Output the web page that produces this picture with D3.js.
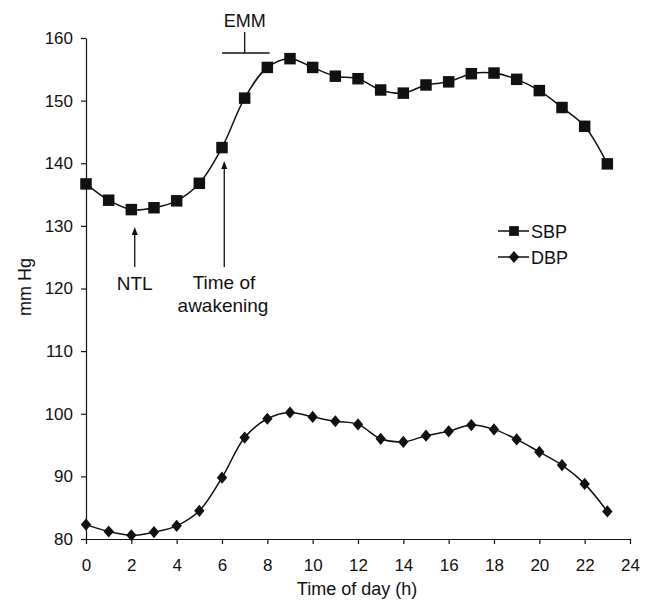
<!DOCTYPE html>
<html lang="en">
<head>
    <meta charset="UTF-8">
    <title>Blood pressure over the day</title>
    <script src="https://d3js.org/d3.v7.min.js"></script>
    <style>
        body {
            margin: 0;
            background: #fff;
        }
        svg text {
            font-family: "Liberation Sans", Arial, sans-serif;
            fill: #111;
        }
        .axis path, .axis line {
            stroke: #111;
            stroke-width: 1.2px;
        }
        .series {
            fill: none;
            stroke: #111;
            stroke-width: 1.5px;
        }
    </style>
</head>
<body>
    <svg id="chart" width="652" height="611"></svg>

    <script>
        // hours of the day
        const hours = d3.range(0, 24);
        // systolic
        const sbp = [136.7, 134.1, 132.6, 132.9, 134.0, 136.8, 142.5, 150.4, 155.3, 156.7,
                     155.3, 153.9, 153.5, 151.7, 151.2, 152.5, 153.0, 154.3, 154.4, 153.4,
                     151.6, 148.9, 145.9, 139.9];
        // diastolic
        const dbp = [82.3, 81.2, 80.6, 81.1, 82.1, 84.5, 89.8, 96.2, 99.2, 100.2,
                     99.5, 98.8, 98.3, 96.0, 95.5, 96.5, 97.2, 98.2, 97.5, 95.9,
                     93.9, 91.8, 88.8, 84.4];
        const xTicks = d3.range(0, 25, 2);
        const yTicks = d3.range(80, 161, 10);

        const svg = d3.select("#chart");
        const x = d3.scaleLinear().domain([0, 24]).range([86, 630]);
        const y = d3.scaleLinear().domain([80, 160]).range([539, 38]);

        // axes
        svg.append("g")
            .attr("class", "axis")
            .attr("transform", `translate(0,${y(80)})`)
            .call(d3.axisBottom(x).tickValues(xTicks).tickSize(5).tickSizeOuter(0).tickPadding(15))
            .call(g => g.selectAll("text").attr("font-size", 17).attr("fill", "#111"));

        svg.append("g")
            .attr("class", "axis")
            .attr("transform", `translate(${x(0)},0)`)
            .call(d3.axisLeft(y).tickValues(yTicks).tickSize(5).tickSizeOuter(0).tickPadding(8))
            .call(g => g.selectAll("text").attr("font-size", 17).attr("fill", "#111"));

        svg.append("text")
            .attr("x", 357)
            .attr("y", 595)
            .attr("text-anchor", "middle")
            .attr("font-size", 18)
            .text("Time of day (h)");

        svg.append("text")
            .attr("transform", `translate(31,${287}) rotate(-90)`)
            .attr("text-anchor", "middle")
            .attr("font-size", 18)
            .text("mm Hg");

        // lines
        const line = d3.line()
            .x((d, i) => x(hours[i]))
            .y(d => y(d))
            .curve(d3.curveCatmullRom.alpha(0.5));

        svg.append("path").attr("class", "series").attr("d", line(sbp));
        svg.append("path").attr("class", "series").attr("d", line(dbp));

        const sq = d3.symbol().type(d3.symbolSquare).size(132);
        const dia = d3.symbol().type(d3.symbolDiamond2).size(95);
        const diaShape = " scale(0.85,1)";

        svg.append("g").selectAll("path")
            .data(sbp)
            .join("path")
            .attr("d", sq)
            .attr("transform", (d, i) => `translate(${x(hours[i])},${y(d)})`)
            .attr("fill", "#111");

        svg.append("g").selectAll("path")
            .data(dbp)
            .join("path")
            .attr("d", dia)
            .attr("transform", (d, i) => `translate(${x(hours[i])},${y(d)})` + diaShape)
            .attr("fill", "#111");

        // legend
        const legend = svg.append("g");
        [["SBP", sq, 231], ["DBP", dia, 257]].forEach(([name, sym, ly]) => {
            legend.append("line")
                .attr("x1", 498).attr("x2", 529)
                .attr("y1", ly).attr("y2", ly)
                .attr("stroke", "#111").attr("stroke-width", 1.5);
            legend.append("path")
                .attr("d", sym)
                .attr("transform", `translate(514,${ly})` + (name == "DBP" ? diaShape : " scale(0.85)"))
                .attr("fill", "#111");
            legend.append("text")
                .attr("x", 531).attr("y", ly + 6.5)
                .attr("font-size", 18)
                .text(name);
        });

        // EMM bracket
        svg.append("line")
            .attr("x1", x(6)).attr("x2", x(8.1))
            .attr("y1", 53).attr("y2", 53)
            .attr("stroke", "#111").attr("stroke-width", 1.3);
        svg.append("line")
            .attr("x1", x(7)).attr("x2", x(7))
            .attr("y1", 32).attr("y2", 53)
            .attr("stroke", "#111").attr("stroke-width", 1.3);
        svg.append("text")
            .attr("x", x(7)).attr("y", 27)
            .attr("text-anchor", "middle")
            .attr("font-size", 18)
            .text("EMM");

        // arrows
        const arrow = (hx, tipY, baseY) => {
            svg.append("line")
                .attr("x1", x(hx)).attr("x2", x(hx))
                .attr("y1", tipY + 5).attr("y2", baseY)
                .attr("stroke", "#111").attr("stroke-width", 1.3);
            svg.append("path")
                .attr("d", `M${x(hx)},${tipY} l-3,8 l6,0 z`)
                .attr("fill", "#111");
        };
        arrow(2.15, 227, 267);
        arrow(6.1, 161, 267);

        svg.append("text")
            .attr("x", x(2.15)).attr("y", 290)
            .attr("text-anchor", "middle")
            .attr("font-size", 19)
            .text("NTL");
        svg.append("text")
            .attr("x", 224).attr("y", 289)
            .attr("text-anchor", "middle")
            .attr("font-size", 19)
            .text("Time of");
        svg.append("text")
            .attr("x", 223).attr("y", 312)
            .attr("text-anchor", "middle")
            .attr("font-size", 19)
            .text("awakening");
    </script>
</body>
</html>
